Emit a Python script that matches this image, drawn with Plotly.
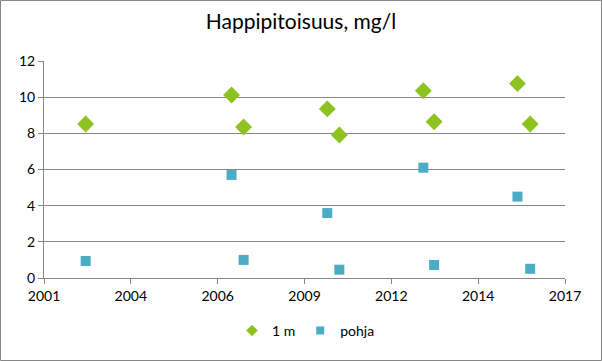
import plotly.graph_objects as go

# Data (decimal years)
x_1m = [2002.28, 2006.76, 2007.13, 2009.70, 2010.07, 2012.65, 2012.98, 2015.54, 2015.93]
y_1m = [8.52, 10.12, 8.35, 9.35, 7.91, 10.36, 8.64, 10.75, 8.52]
x_pohja = [2002.28, 2006.76, 2007.13, 2009.70, 2010.07, 2012.65, 2012.98, 2015.54, 2015.93]
y_pohja = [0.94, 5.70, 1.00, 3.59, 0.46, 6.10, 0.72, 4.50, 0.51]

x_tickvals = [2001, 2001 + 8/3, 2001 + 16/3, 2009, 2009 + 8/3, 2009 + 16/3, 2017]
x_ticktext = ["2001", "2004", "2006", "2009", "2012", "2014", "2017"]
y_tickvals = [0, 2, 4, 6, 8, 10, 12]

font_family = "Lato, 'Open Sans', sans-serif"
green = "#8DC220"
teal = "#4BACC6"

fig = go.Figure()
fig.add_trace(go.Scatter(
    x=x_1m, y=y_1m, mode="markers", name="1 m", showlegend=False,
    marker=dict(symbol="diamond", size=13, color=green),
))
fig.add_trace(go.Scatter(
    x=x_pohja, y=y_pohja, mode="markers", name="pohja", showlegend=False,
    marker=dict(symbol="square", size=10, color=teal),
))
# legend entries with smaller symbols, as in the reference
fig.add_trace(go.Scatter(
    x=[None], y=[None], mode="markers", name="1 m",
    marker=dict(symbol="diamond", size=9, color=green),
))
fig.add_trace(go.Scatter(
    x=[None], y=[None], mode="markers", name="pohja",
    marker=dict(symbol="square", size=8, color=teal),
))

fig.update_layout(
    width=602, height=361,
    paper_bgcolor="white", plot_bgcolor="white",
    margin=dict(l=44, r=37, t=61, b=83),
    title=dict(text="Happipitoisuus, mg/l", x=0.5, xanchor="center",
               y=1 - 22/361, yanchor="middle",
               font=dict(family=font_family, size=21, color="#000000")),
    font=dict(family=font_family, size=13, color="#000000"),
    showlegend=True,
    legend=dict(orientation="h", x=(232 - 44) / 521, xanchor="left", y=-0.17, yanchor="top",
                font=dict(size=14), itemwidth=30, tracegroupgap=0),
    xaxis=dict(range=[2001, 2017], tickvals=x_tickvals, ticktext=x_ticktext,
               showgrid=False, zeroline=False, showline=True, linecolor="#868686",
               linewidth=1, ticks="outside", ticklen=5, tickcolor="#868686",
               tickfont=dict(size=14)),
    yaxis=dict(range=[0, 12], tickvals=y_tickvals, showgrid=True,
               gridcolor="#868686", gridwidth=1, zeroline=False,
               showline=True, linecolor="#868686", linewidth=1,
               ticks="outside", ticklen=5, tickcolor="#868686",
               tickfont=dict(size=14)),
    shapes=[dict(type="rect", xref="paper", yref="paper",
                 x0=-43.5/521, x1=1 + 36.5/521, y0=-82.5/217, y1=1 + 60.5/217,
                 line=dict(color="#868686", width=1))],
)

fig.write_html("out.html", config={"displayModeBar": False},
               post_script="document.body.style.margin='0';document.body.style.overflow='hidden';")
